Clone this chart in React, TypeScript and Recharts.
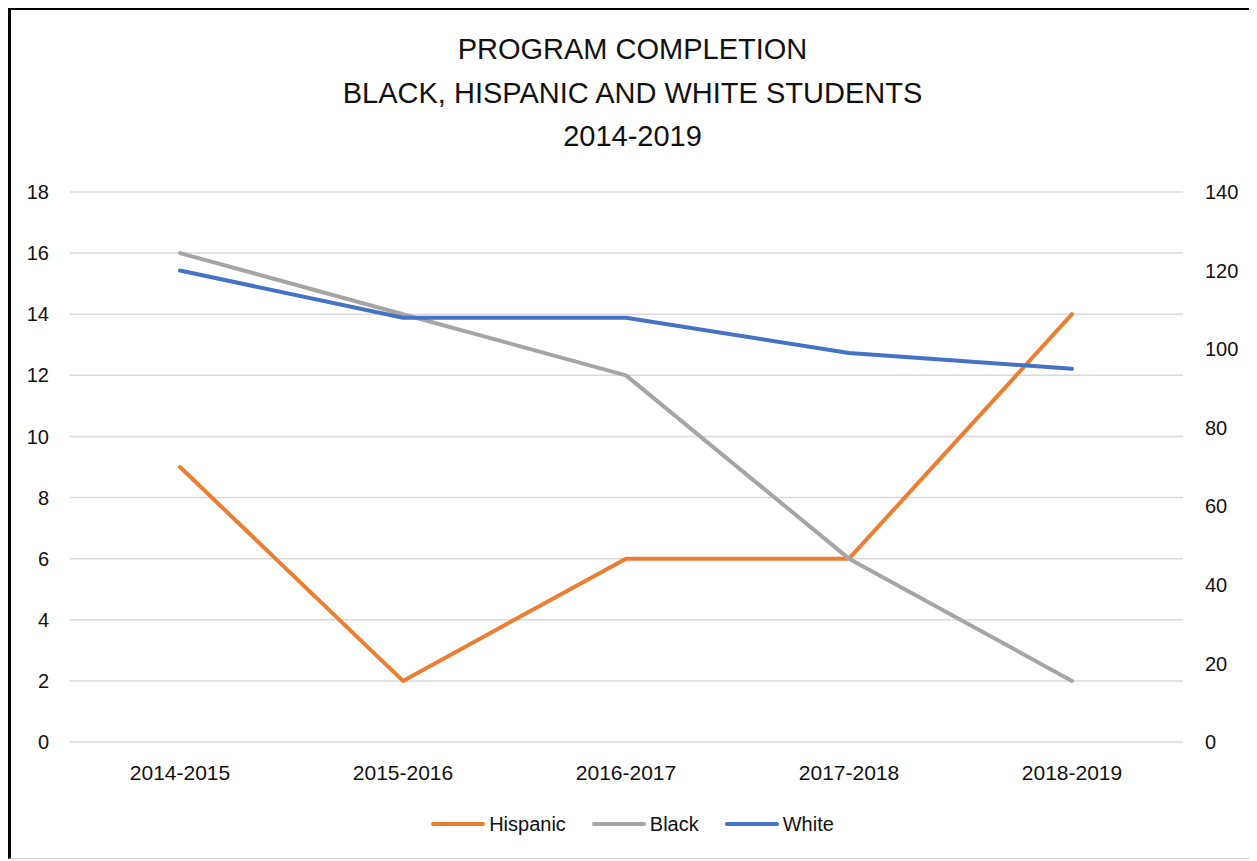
// Program completion by student group, 2014-2019
// Hispanic / Black on the left axis, White on the right axis

import { LineChart, Line, XAxis, YAxis, CartesianGrid, Legend } from 'recharts';

const YEARS = ['2014-2015', '2015-2016', '2016-2017', '2017-2018', '2018-2019'];
const HISPANIC = [9, 2, 6, 6, 14];
const BLACK = [16, 14, 12, 6, 2];
const WHITE = [120, 108, 108, 99, 95];

const LEFT_TICKS = [0, 2, 4, 6, 8, 10, 12, 14, 16, 18];
const RIGHT_TICKS = [0, 20, 40, 60, 80, 100, 120, 140];

const TITLE_LINES = ['PROGRAM COMPLETION', 'BLACK, HISPANIC AND WHITE STUDENTS', '2014-2019'];

const SERIES = [
  { key: 'hispanic', name: 'Hispanic', color: '#ED7D31', axis: 'left' },
  { key: 'black', name: 'Black', color: '#A5A5A5', axis: 'left' },
  { key: 'white', name: 'White', color: '#4472C4', axis: 'right' },
];

const FONT = '"Liberation Sans", Arial, sans-serif';
const TEXT = '#111';

const data = YEARS.map((year, i) => ({
  year,
  hispanic: HISPANIC[i],
  black: BLACK[i],
  white: WHITE[i],
}));

function LegendContent() {
  return (
    <div
      style={{
        height: 30,
        display: 'flex',
        justifyContent: 'center',
        alignItems: 'center',
        gap: 26,
        fontFamily: FONT,
        fontSize: 20,
        color: TEXT,
      }}
    >
      {SERIES.map((s) => (
        <div key={s.key} style={{ display: 'flex', alignItems: 'center', gap: 4 }}>
          <span
            style={{
              display: 'inline-block',
              width: 54,
              height: 4,
              borderRadius: 2,
              backgroundColor: s.color,
            }}
          />
          <span>{s.name}</span>
        </div>
      ))}
    </div>
  );
}

export default function App() {
  return (
    <div
      style={{
        position: 'relative',
        width: 1243,
        height: 848,
        background: '#fff',
        borderTop: '2px solid #000',
        borderLeft: '3px solid #000',
        borderRight: '1px solid #d0d0d0',
        borderBottom: '1px solid #d0d0d0',
      }}
    >
      {/* Title */}
      <div
        style={{
          position: 'absolute',
          top: 0,
          left: 0,
          width: '100%',
          paddingTop: 18,
          textAlign: 'center',
          fontFamily: FONT,
          fontSize: 29,
          lineHeight: '43.5px',
          color: TEXT,
          pointerEvents: 'none',
        }}
      >
        {TITLE_LINES.map((line) => (
          <div key={line}>{line}</div>
        ))}
      </div>

      <LineChart
        width={1243}
        height={848}
        data={data}
        margin={{ top: 182, right: 0, left: 0, bottom: 19 }}
      >
        <CartesianGrid
          yAxisId="left"
          vertical={false}
          stroke="#d9d9d9"
          strokeWidth={1.5}
        />
        <XAxis
          dataKey="year"
          height={67}
          padding={{ left: 110, right: 111 }}
          axisLine={false}
          tickLine={false}
          tickSize={0}
          tickMargin={23}
          tick={{ fontFamily: FONT, fontSize: 21, fill: TEXT }}
        />
        <YAxis
          yAxisId="left"
          orientation="left"
          width={59}
          domain={[0, 18]}
          ticks={LEFT_TICKS}
          axisLine={false}
          tickLine={false}
          tickSize={0}
          tickMargin={21}
          tick={{ fontFamily: FONT, fontSize: 20, fill: TEXT }}
        />
        <YAxis
          yAxisId="right"
          orientation="right"
          width={71}
          domain={[0, 140]}
          ticks={RIGHT_TICKS}
          axisLine={false}
          tickLine={false}
          tickSize={0}
          tickMargin={22}
          tick={{ fontFamily: FONT, fontSize: 20, fill: TEXT, textAnchor: 'start' }}
        />
        <Legend verticalAlign="bottom" content={() => <LegendContent />} />
        {SERIES.map((s) => (
          <Line
            key={s.key}
            yAxisId={s.axis}
            type="linear"
            dataKey={s.key}
            name={s.name}
            stroke={s.color}
            strokeWidth={4}
            strokeLinecap="round"
            strokeLinejoin="round"
            dot={false}
            activeDot={false}
            isAnimationActive={false}
          />
        ))}
      </LineChart>
    </div>
  );
}
